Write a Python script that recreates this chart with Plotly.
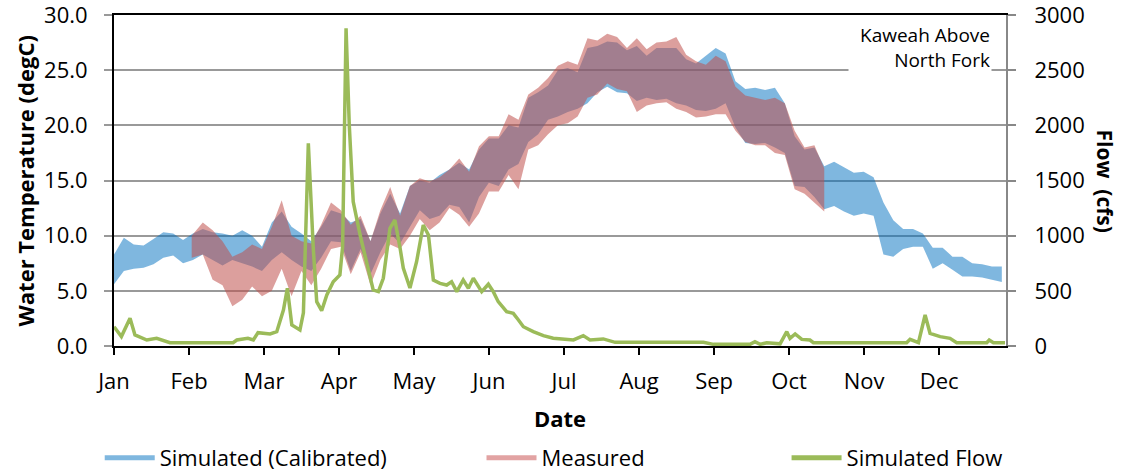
import plotly.graph_objects as go

# ---------------- data ----------------
months = ["Jan", "Feb", "Mar", "Apr", "May", "Jun", "Jul", "Aug", "Sep", "Oct", "Nov", "Dec"]

# day-of-year sampling for temperature envelopes
sim_days = list(range(0, 361, 4))
sim_hi = [8.3, 9.8, 9.2, 9.1, 9.7, 10.3, 10.2, 9.6, 10.2, 10.6,
          10.3, 10.2, 10.0, 10.5, 10.0, 9.0, 11.2, 12.2, 10.8, 10.2,
          9.5, 10.8, 12.3, 12.0, 11.2, 11.5, 9.5, 12.0, 13.8, 12.0,
          14.5, 15.0, 14.8, 15.5, 16.0, 16.6, 16.0, 17.8, 18.8, 18.8,
          20.0, 19.8, 22.5, 23.0, 23.6, 25.0, 25.2, 24.8, 27.0, 27.2,
          27.6, 27.5, 26.8, 27.2, 26.3, 27.0, 27.0, 27.0, 26.0, 25.6,
          26.3, 27.0, 26.5, 24.0, 23.3, 23.4, 23.2, 23.4, 22.0, 19.0,
          17.8, 18.0, 16.3, 16.7, 16.2, 15.7, 15.8, 15.3, 13.0, 11.4,
          10.6, 10.6, 10.2, 8.9, 8.9, 8.1, 8.1, 7.5, 7.4, 7.2, 7.2]
sim_lo = [5.6, 6.8, 7.0, 7.1, 7.4, 8.0, 8.2, 7.5, 7.8, 8.3,
          7.8, 7.3, 7.8, 7.5, 7.2, 6.8, 7.8, 8.5, 7.8, 7.2,
          6.8, 8.0, 9.5, 9.4, 6.8, 8.8, 6.5, 8.5, 10.2, 9.3,
          10.8, 12.3, 11.5, 11.8, 12.8, 12.6, 11.2, 13.5, 14.8, 14.5,
          16.0, 16.5, 18.5, 19.2, 20.5, 20.8, 21.2, 21.5, 22.0, 23.0,
          23.5, 23.0, 22.9, 22.2, 22.5, 22.3, 22.4, 22.0, 21.8, 21.4,
          21.3, 21.5, 22.0, 19.8, 18.4, 18.3, 18.4, 18.0, 17.5, 14.5,
          14.4, 13.5, 12.4, 12.7, 12.2, 11.8, 12.0, 11.8, 8.3, 8.1,
          8.8, 9.0, 9.0, 7.0, 7.5, 6.9, 6.3, 6.3, 6.2, 6.0, 5.8]

meas_days = [31.5] + list(range(36, 289, 4))
meas_hi = [10.0, 11.2, 10.5, 9.5, 8.1, 8.5, 9.2, 8.8, 10.8, 13.2,
           10.0, 9.5, 9.3, 11.0, 13.0, 12.3, 11.0, 11.8, 9.5, 12.3,
           14.4, 11.8, 14.5, 15.2, 14.9, 15.3, 16.0, 17.0, 15.8, 18.1,
           19.0, 19.0, 21.0, 20.5, 22.8, 23.4, 24.3, 25.4, 25.8, 25.5,
           27.9, 27.7, 28.3, 28.0, 27.0, 27.9, 26.9, 27.5, 27.6, 28.0,
           26.4, 25.8, 25.5, 26.3, 25.8, 23.5, 22.7, 22.5, 22.3, 22.5,
           22.0, 19.5, 18.0, 18.2, 16.1]
meas_lo = [8.0, 8.3, 6.0, 5.5, 3.6, 4.2, 5.4, 4.5, 5.0, 7.0,
           4.5, 6.8, 5.5, 7.0, 8.8, 9.0, 6.5, 8.5, 5.5, 7.8,
           9.2, 8.8, 10.0, 11.5, 10.5, 11.2, 12.5, 11.9, 10.8, 12.0,
           14.0, 14.0, 15.5, 14.2, 17.8, 18.2, 19.2, 20.0, 20.2, 20.8,
           22.5, 22.8, 23.8, 23.3, 23.1, 21.2, 21.8, 22.0, 22.1, 21.5,
           21.2, 20.7, 20.8, 21.0, 21.0, 19.5, 18.5, 18.2, 18.2, 17.5,
           17.3, 14.2, 13.8, 13.0, 12.2]

flow_days = [0, 3, 6.5, 8.5, 13.3, 17.3, 22.7, 48.3, 49.8, 54.3,
             56.5, 58.4, 63.3, 66, 68.7, 70.3, 72.1, 75.4, 76.8, 78.8,
             80.8, 82.2, 84.2, 86.3, 88.9, 91.6, 92.7, 94.1, 95.4, 97,
             99.8, 102.5, 105.1, 107.2, 109.2, 111.9, 113.9, 116, 117.3, 120,
             122.7, 125.4, 127.5, 129.5, 132.2, 134.9, 136.9, 139, 141.6, 143.7,
             145.7, 149.1, 151.8, 153.8, 155.8, 159.2, 161.9, 164, 166, 170,
             174.1, 178.1, 181.5, 186.3, 190.3, 193, 198.4, 203.2, 239, 243.1,
             257.9, 259.9, 262, 264.7, 270.1, 272.8, 274.1, 276.2, 278.9, 282.2,
             283.6, 321.4, 322.8, 326.2, 328.9, 330.9, 335, 339, 341.7, 353.9,
             354.9, 356.6, 361.3]
flow_cfs = [175, 85, 251, 100, 54, 69, 30, 30, 54, 69,
            54, 121, 109, 130, 326, 523, 190, 145, 300, 1838,
            888, 402, 320, 462, 583, 644, 900, 2880, 2003, 1308,
            1006, 764, 508, 493, 614, 1067, 1142, 888, 707, 526,
            764, 1097, 1006, 598, 568, 553, 583, 493, 598, 523,
            614, 493, 560, 493, 402, 311, 296, 236, 175, 130,
            94, 70, 64, 55, 94, 55, 64, 33, 33, 15,
            15, 39, 15, 30, 20, 130, 69, 109, 60, 54,
            30, 30, 61, 30, 281, 115, 85, 69, 30, 30,
            54, 30, 30]

temp_ticks = [0, 5, 10, 15, 20, 25, 30]
flow_ticks = [0, 500, 1000, 1500, 2000, 2500, 3000]

# ---------------- styling ----------------
FONT = "Open Sans"
BLUE = "rgba(0,112,192,0.5)"
PINK = "rgba(192,80,77,0.55)"
GREEN = "#9BBB59"
month_pos = [i * 365 / 12 for i in range(12)]

fig = go.Figure()

fig.add_trace(go.Scatter(
    x=sim_days + sim_days[::-1], y=sim_hi + sim_lo[::-1],
    fill="toself", fillcolor=BLUE, line=dict(width=0), mode="lines",
    showlegend=False, hoverinfo="skip"))
fig.add_trace(go.Scatter(
    x=meas_days + meas_days[::-1], y=meas_hi + meas_lo[::-1],
    fill="toself", fillcolor=PINK, line=dict(width=0), mode="lines",
    showlegend=False, hoverinfo="skip"))
fig.add_trace(go.Scatter(
    x=flow_days, y=flow_cfs, yaxis="y2", mode="lines",
    line=dict(color=GREEN, width=3.5), showlegend=False))

# legend entries
fig.add_trace(go.Scatter(x=[None], y=[None], mode="lines", name="Simulated (Calibrated)",
                         line=dict(color="rgb(127,183,223)", width=5), legend="legend"))
fig.add_trace(go.Scatter(x=[None], y=[None], mode="lines", name="Measured",
                         line=dict(color="rgb(226,163,163)", width=5), legend="legend2"))
fig.add_trace(go.Scatter(x=[None], y=[None], mode="lines", name="Simulated Flow",
                         line=dict(color=GREEN, width=5), legend="legend3"))

leg_common = dict(orientation="h", yanchor="middle", y=-0.338, xanchor="left",
                  itemwidth=50,
                  font=dict(family=FONT, size=22, color="black"), bgcolor="rgba(0,0,0,0)")

fig.update_layout(
    width=1121, height=473,
    margin=dict(l=114, r=115, t=15, b=127, autoexpand=False),
    paper_bgcolor="white", plot_bgcolor="white",
    font=dict(family=FONT, size=22, color="black"),
    xaxis=dict(range=[0, 361.7], tickvals=month_pos, ticktext=months,
               showline=True, linecolor="black", linewidth=2, mirror=True,
               ticks="outside", ticklen=7, tickwidth=2, tickcolor="black",
               showgrid=False, zeroline=False, ticklabelstandoff=8, automargin=False,
               ticklabeloverflow="allow",
               title=dict(text="<b>Date</b>", font=dict(size=22), standoff=17)),
    yaxis=dict(range=[0, 30], tickvals=temp_ticks, tickformat=".1f",
               showline=True, linecolor="black", linewidth=2,
               ticks="outside", ticklen=8, tickwidth=1.5, tickcolor="#999",
               showgrid=True, gridcolor="#999", gridwidth=1.5, zeroline=False,
               ticklabelstandoff=12, automargin=False, ticklabeloverflow="allow"),
    yaxis2=dict(range=[0, 3000], tickvals=flow_ticks, overlaying="y", side="right",
                showline=True, linecolor="#888", linewidth=2, automargin=False,
                ticks="outside", ticklen=8, tickwidth=1.5, tickcolor="#888",
                showgrid=False, zeroline=False, ticklabelstandoff=14,
                ticklabeloverflow="allow"),
    legend=dict(x=-0.016, **leg_common),
    legend2=dict(x=0.412, **leg_common),
    legend3=dict(x=0.754, **leg_common),
    annotations=[
        dict(text="Kaweah Above<br>North Fork", xref="paper", yref="paper",
             x=0.9843, y=0.985, xanchor="right", yanchor="top", align="right",
             showarrow=False, bgcolor="white", width=140,
             font=dict(family=FONT, size=19, color="black")),
        dict(text="<b>Water Temperature (degC)</b>", xref="paper", yref="paper",
             x=-0.0998, y=0.5, xanchor="center", yanchor="middle", textangle=-90,
             showarrow=False, font=dict(family=FONT, size=22, color="black")),
        dict(text="<b>Flow  (cfs)</b>", xref="paper", yref="paper",
             x=1.111, y=0.5, xanchor="center", yanchor="middle", textangle=90,
             showarrow=False, font=dict(family=FONT, size=21, color="black")),
    ],
)

# remove the browser's default 8px body margin so the figure fills the window exactly
fig.write_html("out.html", config={"displayModeBar": False},
               post_script="document.body.style.margin='0';")
